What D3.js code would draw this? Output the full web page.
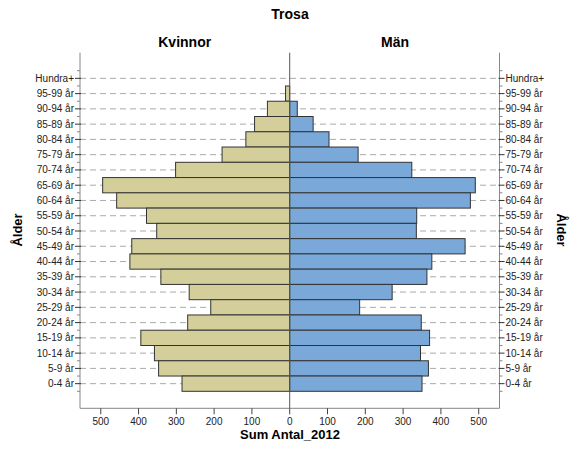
<!DOCTYPE html>
<html>
<head>
<meta charset="utf-8">
<script src="https://cdn.jsdelivr.net/npm/d3@7"></script>
<style>
  html, body { margin: 0; padding: 0; background: #fff; }
  svg { display: block; font-family: "Liberation Sans", Arial, sans-serif; }
</style>
</head>
<body>
<svg id="chart" width="576" height="457"></svg>
<script>
// Age groups, oldest first (top of the pyramid)
const ageGroups = ["Hundra+", "95-99 år", "90-94 år", "85-89 år", "80-84 år", "75-79 år",
  "70-74 år", "65-69 år", "60-64 år", "55-59 år", "50-54 år", "45-49 år", "40-44 år",
  "35-39 år", "30-34 år", "25-29 år", "20-24 år", "15-19 år", "10-14 år", "5-9 år", "0-4 år"];

// Population 2012, women (Kvinnor) and men (Män)
const kvinnor = [0, 11, 59, 93, 116, 179, 302, 495, 458, 379, 352, 418, 423, 341, 266, 209, 270, 394, 358, 347, 285];
const man     = [0, 0, 20, 62, 104, 181, 323, 491, 478, 336, 335, 464, 376, 363, 271, 185, 348, 370, 346, 367, 350];

const xTicks = [0, 100, 200, 300, 400, 500];
const xMax = 555;

const colors = { kvinnor: "#d4cf9a", man: "#79a8d9" };

// Plot box
const plot = { left: 80, right: 499.5, top: 52.7, bottom: 408.3 };
const center = 289.7;

const svg = d3.select("#chart");

const xL = d3.scaleLinear().domain([0, xMax]).range([center, plot.left]);
const xR = d3.scaleLinear().domain([0, xMax]).range([center, plot.right]);
const y = d3.scaleBand().domain(ageGroups).range([70.7, 391.3]).padding(0);

// Dashed gridlines at each age group
svg.append("g").selectAll("line").data(ageGroups).join("line")
  .attr("x1", plot.left).attr("x2", plot.right)
  .attr("y1", d => y(d) + y.bandwidth() / 2)
  .attr("y2", d => y(d) + y.bandwidth() / 2)
  .attr("stroke", "#aaa").attr("stroke-width", 1)
  .attr("stroke-dasharray", "6,4");

// Bars
const rows = ageGroups.map((g, i) => ({ g, k: kvinnor[i], m: man[i] }));

svg.append("g").selectAll("rect").data(rows.filter(d => d.k > 0)).join("rect")
  .attr("x", d => xL(d.k)).attr("width", d => xL(0) - xL(d.k))
  .attr("y", d => y(d.g)).attr("height", y.bandwidth())
  .attr("fill", colors.kvinnor).attr("stroke", "#333").attr("stroke-width", 1);

svg.append("g").selectAll("rect").data(rows.filter(d => d.m > 0)).join("rect")
  .attr("x", xR(0)).attr("width", d => xR(d.m) - xR(0))
  .attr("y", d => y(d.g)).attr("height", y.bandwidth())
  .attr("fill", colors.man).attr("stroke", "#333").attr("stroke-width", 1);

// Centre line
svg.append("line")
  .attr("x1", center).attr("x2", center)
  .attr("y1", plot.top).attr("y2", plot.bottom)
  .attr("stroke", "#555").attr("stroke-width", 1);

// Y axes (left and right) with minor ticks at band boundaries
const boundaries = ageGroups.map(d => y(d)).concat([y.range()[1]]);

function yAxisSide(xPos, dir) {
  const g = svg.append("g");
  g.append("line").attr("x1", xPos).attr("x2", xPos)
    .attr("y1", plot.top).attr("y2", plot.bottom)
    .attr("stroke", "#888");
  g.selectAll("line.minor").data(boundaries).join("line").attr("class", "minor")
    .attr("x1", xPos).attr("x2", xPos + dir * 3)
    .attr("y1", d => d).attr("y2", d => d)
    .attr("stroke", "#888");
  g.selectAll("line.major").data(ageGroups).join("line").attr("class", "major")
    .attr("x1", xPos - dir * 1).attr("x2", xPos + dir * 5)
    .attr("y1", d => y(d) + y.bandwidth() / 2)
    .attr("y2", d => y(d) + y.bandwidth() / 2)
    .attr("stroke", "#333");
  g.selectAll("text").data(ageGroups).join("text")
    .attr("x", xPos + dir * 6)
    .attr("y", d => y(d) + y.bandwidth() / 2)
    .attr("dy", "0.35em")
    .attr("text-anchor", dir < 0 ? "end" : "start")
    .attr("font-size", 10).attr("fill", "#222")
    .text(d => d);
}
yAxisSide(plot.left, -1);
yAxisSide(plot.right, 1);

// X axis
const xg = svg.append("g");
xg.append("line").attr("x1", plot.left).attr("x2", plot.right)
  .attr("y1", plot.bottom).attr("y2", plot.bottom).attr("stroke", "#888");
const tickData = xTicks.map(v => ({ v, x: xL(v) }))
  .concat(xTicks.filter(v => v > 0).map(v => ({ v, x: xR(v) })));
xg.selectAll("line.tick").data(tickData).join("line").attr("class", "tick")
  .attr("x1", d => d.x).attr("x2", d => d.x)
  .attr("y1", plot.bottom).attr("y2", plot.bottom + 6)
  .attr("stroke", "#444");
xg.selectAll("text").data(tickData).join("text")
  .attr("x", d => d.x).attr("y", 425)
  .attr("text-anchor", "middle").attr("font-size", 10).attr("fill", "#222")
  .text(d => d.v);

// Titles
svg.append("text").attr("x", 290).attr("y", 18.5).attr("text-anchor", "middle")
  .attr("font-size", 14).attr("font-weight", "bold").text("Trosa");
svg.append("text").attr("x", 184.7).attr("y", 46.5).attr("text-anchor", "middle")
  .attr("font-size", 14).attr("font-weight", "bold").text("Kvinnor");
svg.append("text").attr("x", 395).attr("y", 46.5).attr("text-anchor", "middle")
  .attr("font-size", 14).attr("font-weight", "bold").text("Män");
svg.append("text").attr("x", 290).attr("y", 438.5).attr("text-anchor", "middle")
  .attr("font-size", 13).attr("font-weight", "bold").text("Sum Antal_2012");

svg.append("text").attr("transform", "translate(21.5,230) rotate(-90)")
  .attr("text-anchor", "middle").attr("font-size", 13).attr("font-weight", "bold").text("Ålder");
svg.append("text").attr("transform", "translate(557,230) rotate(90)")
  .attr("text-anchor", "middle").attr("font-size", 13).attr("font-weight", "bold").text("Ålder");
</script>
</body>
</html>
